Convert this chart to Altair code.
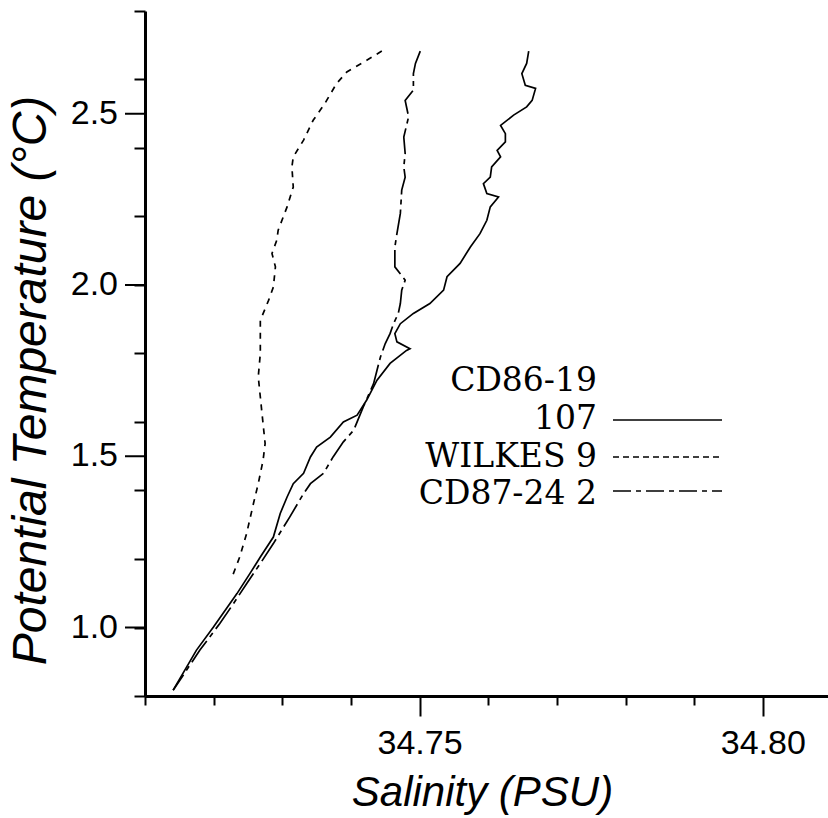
import altair as alt
import pandas as pd

# ---- data (salinity PSU, potential temperature degC) ----
# CD86-19 107 (solid)
CD86_SAL = [34.7659, 34.7656, 34.7649, 34.7654, 34.7669, 34.7664, 34.7656, 34.7637,
            34.7618, 34.7625, 34.7625, 34.7613, 34.7618, 34.7605, 34.7603, 34.7593,
            34.7598, 34.7615, 34.7603, 34.7598, 34.7588, 34.7574, 34.7559, 34.7540,
            34.7535, 34.7515, 34.7491, 34.7472, 34.7464, 34.7467, 34.7486, 34.7481,
            34.7457, 34.7438, 34.7423, 34.7409, 34.7389, 34.7370, 34.7350, 34.7341,
            34.7331, 34.7316, 34.7307, 34.7297, 34.7287, 34.7268, 34.7253, 34.7234,
            34.7200, 34.7175, 34.7141]
CD86_THETA = [2.683, 2.647, 2.617, 2.583, 2.574, 2.539, 2.520, 2.496,
              2.466, 2.442, 2.418, 2.393, 2.374, 2.345, 2.315, 2.296,
              2.267, 2.257, 2.228, 2.189, 2.150, 2.111, 2.063, 2.024,
              1.985, 1.946, 1.917, 1.887, 1.858, 1.834, 1.814, 1.809,
              1.771, 1.722, 1.664, 1.620, 1.600, 1.556, 1.527, 1.498,
              1.450, 1.420, 1.381, 1.333, 1.264, 1.206, 1.158, 1.099,
              1.002, 0.934, 0.817]

# WILKES 9 (short dashes)
WILKES_SAL = [34.7445, 34.7423, 34.7394, 34.7379, 34.7362, 34.7345, 34.7331, 34.7316,
              34.7314, 34.7316, 34.7307, 34.7294, 34.7292, 34.7285, 34.7290, 34.7287,
              34.7280, 34.7268, 34.7268, 34.7268, 34.7265, 34.7270, 34.7275, 34.7272,
              34.7265, 34.7258, 34.7248, 34.7238, 34.7226]
WILKES_THETA = [2.683, 2.656, 2.622, 2.588, 2.530, 2.481, 2.423, 2.374,
                2.345, 2.286, 2.228, 2.160, 2.131, 2.092, 2.053, 1.994,
                1.955, 1.897, 1.829, 1.800, 1.732, 1.634, 1.537, 1.488,
                1.420, 1.362, 1.274, 1.206, 1.143]

# CD87-24 2 (dash-dot)
CD87_SAL = [34.7501, 34.7494, 34.7491, 34.7491, 34.7479, 34.7484, 34.7477, 34.7479,
            34.7477, 34.7479, 34.7474, 34.7472, 34.7467, 34.7464, 34.7464, 34.7479,
            34.7474, 34.7472, 34.7469, 34.7462, 34.7457, 34.7450, 34.7443, 34.7438,
            34.7433, 34.7418, 34.7404, 34.7389, 34.7374, 34.7360, 34.7341, 34.7331,
            34.7311, 34.7287, 34.7268, 34.7248, 34.7229, 34.7209, 34.7180, 34.7141]
CD87_THETA = [2.683, 2.647, 2.617, 2.569, 2.539, 2.491, 2.432, 2.384,
              2.345, 2.315, 2.277, 2.209, 2.150, 2.111, 2.053, 2.014,
              1.985, 1.946, 1.917, 1.887, 1.858, 1.829, 1.790, 1.751,
              1.712, 1.644, 1.576, 1.542, 1.498, 1.450, 1.420, 1.391,
              1.323, 1.245, 1.187, 1.128, 1.070, 1.012, 0.934, 0.817]

X_TICKS = [34.71, 34.72, 34.73, 34.74, 34.75, 34.76, 34.77, 34.78, 34.79, 34.80]
X_LABELED = [34.75, 34.80]
Y_TICKS = [0.8, 0.9, 1.0, 1.1, 1.2, 1.3, 1.4, 1.5, 1.6, 1.7, 1.8, 1.9, 2.0,
           2.1, 2.2, 2.3, 2.4, 2.5, 2.6, 2.7, 2.8]
Y_LABELED = [1.0, 1.5, 2.0, 2.5]
X_DOMAIN = [34.71, 34.8095]
Y_DOMAIN = [0.8, 2.8]

LEGEND_TEXT = ["CD86-19", "107", "WILKES 9", "CD87-24 2"]


def series_df(sal, theta):
    return pd.DataFrame({"sal": sal, "theta": theta, "i": list(range(len(sal)))})


X_MAJOR = " || ".join(f"abs(datum.value - {v}) < 0.001" for v in X_LABELED)

y_scale = alt.Scale(domain=Y_DOMAIN, nice=False, zero=False)

x_enc = alt.X(
    "sal:Q",
    scale=alt.Scale(domain=X_DOMAIN, nice=False, zero=False),
    axis=alt.Axis(
        values=X_TICKS,
        title="Salinity (PSU)",
        grid=False,
        labelExpr="(" + X_MAJOR + ") ? format(datum.value, '.2f') : ''",
        tickSize={"condition": {"test": X_MAJOR, "value": 20}, "value": 9},
        labelOverlap=False,
        labelFlush=False,
        labelFont="Liberation Sans",
        labelFontSize=34,
        labelColor="black",
        labelPadding=10,
        tickColor="black",
        tickWidth=2,
        domainColor="black",
        domainWidth=3,
        titleFont="Liberation Sans",
        titleFontSize=42,
        titleFontStyle="italic",
        titleFontWeight="normal",
        titleColor="black",
        titleX=337,
        titleY=109,
        titleAlign="center",
        titleBaseline="alphabetic",
    ),
)

# y axis: minor ticks from the axis, major ticks and labels drawn below
y_enc = alt.Y(
    "theta:Q",
    scale=y_scale,
    axis=alt.Axis(
        values=Y_TICKS,
        title="Potential Temperature (°C)",
        grid=False,
        labels=False,
        tickSize=11,
        tickColor="black",
        tickWidth=2,
        domainColor="black",
        domainWidth=3,
        titleFont="Liberation Sans",
        titleFontSize=48,
        titleFontStyle="italic",
        titleFontWeight="normal",
        titleColor="black",
        titleAngle=270,
        titleX=-100,
        titleY=369,
        titleAlign="center",
        titleBaseline="alphabetic",
    ),
)

solid = alt.Chart(series_df(CD86_SAL, CD86_THETA)).mark_line(
    color="black", strokeWidth=1.7
).encode(x=x_enc, y=y_enc, order="i:Q")

wilkes = alt.Chart(series_df(WILKES_SAL, WILKES_THETA)).mark_line(
    color="black", strokeWidth=1.7, strokeDash=[6, 6]
).encode(x="sal:Q", y="theta:Q", order="i:Q")

cd87 = alt.Chart(series_df(CD87_SAL, CD87_THETA)).mark_line(
    color="black", strokeWidth=1.7, strokeDash=[26, 5, 5, 5]
).encode(x="sal:Q", y="theta:Q", order="i:Q")

ylab_df = pd.DataFrame({"v": Y_LABELED, "lab": [f"{v:.1f}" for v in Y_LABELED]})
y_major_ticks = alt.Chart(ylab_df).mark_rule(color="black", strokeWidth=2).encode(
    y=alt.Y("v:Q", scale=y_scale), x=alt.value(-20), x2=alt.value(0)
)
y_major_labels = alt.Chart(ylab_df).mark_text(
    align="right", baseline="middle", font="Liberation Sans", fontSize=34, color="black"
).encode(y=alt.Y("v:Q", scale=y_scale), x=alt.value(-27), text="lab:N")

# ---- manual legend (annotation) ----
text_y = [380, 418, 456, 493]
legend_layers = []
for label, ty in zip(LEGEND_TEXT, text_y):
    legend_layers.append(
        alt.Chart(pd.DataFrame({"t": [label]})).mark_text(
            align="right", baseline="alphabetic", font="DejaVu Serif",
            fontSize=33, color="black"
        ).encode(text="t:N", x=alt.value(452), y=alt.value(ty))
    )

rule_specs = [(409, None), (446, [6, 4]), (480, [18, 5, 5, 5])]
for ry, dash in rule_specs:
    kw = dict(color="black", strokeWidth=1.7)
    if dash is not None:
        kw["strokeDash"] = dash
    legend_layers.append(
        alt.Chart(pd.DataFrame({"k": [0]})).mark_rule(**kw).encode(
            x=alt.value(468), x2=alt.value(577), y=alt.value(ry)
        )
    )

chart = alt.layer(
    solid, wilkes, cd87, y_major_ticks, y_major_labels, *legend_layers
).properties(
    width=683,
    height=685,
    autosize=alt.AutoSizeParams(type="none"),
    padding={"left": 145, "top": 11, "right": 0, "bottom": 122},
    background="white",
).configure_view(stroke=None)

chart.save("out.html", embed_options={"renderer": "svg", "actions": False})
